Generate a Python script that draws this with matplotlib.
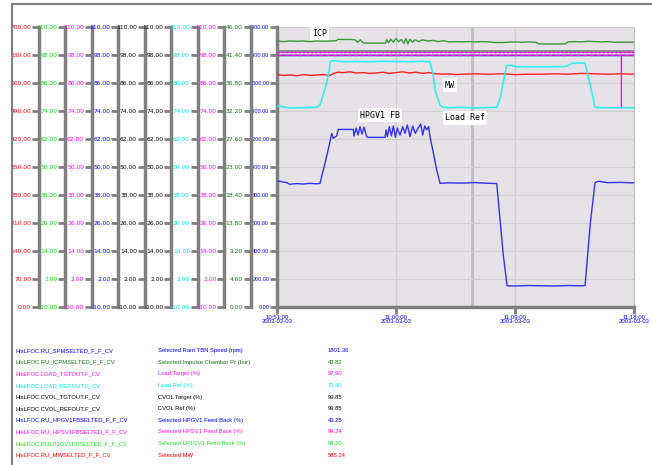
import matplotlib.pyplot as plt
from matplotlib.lines import Line2D

# time axis: minutes after 10:51:00
time_ticks = [0, 9, 18, 27]
time_labels = ['10:51:00\n2003-03-03', '11:00:00\n2003-03-03',
               '11:09:00\n2003-03-03', '11:18:00\n2003-03-03']

# Load Ref (%)
lr_t = [0, 0.3, 0.6, 1.0, 1.5, 2.0, 2.5, 3.0, 3.25, 3.65, 3.9, 4.06, 4.4, 5, 6, 7, 8, 9, 10, 11,
        11.57, 11.8, 11.95, 12.33, 12.6, 13, 14, 15, 16, 16.62, 16.9, 17.1, 17.37, 17.8, 18.0, 19,
        20, 21, 21.9, 22.3, 22.8, 23.3, 23.7, 24.05, 24.4, 25, 26, 27]
lr_v = [76.3, 76.0, 75.6, 75.3, 75.4, 75.4, 75.5, 75.6, 76.5, 84.0, 90.0, 95.4, 95.6, 95.1, 95.2,
        95.1, 95.3, 95.2, 95.1, 95.3, 95.0, 90.0, 83.0, 76.5, 75.5, 75.4, 75.6, 75.3, 75.5, 75.6,
        80.0, 86.0, 93.5, 93.6, 93.0, 93.0, 93.0, 93.0, 93.1, 94.4, 94.6, 94.4, 85.0, 75.6, 75.4,
        75.4, 75.4, 75.4]

# Selected HPGV1 Feed Back (%)
hg_t = [0, 0.35, 0.73, 0.98, 1.5, 2.0, 2.5, 3.0, 3.25, 3.63, 4.01, 4.14, 4.26, 4.51, 4.64, 5.2,
        5.77, 5.82, 5.98, 6.13, 6.28, 6.43, 6.58, 6.78, 6.91, 7.5, 8.17, 8.25, 8.35, 8.5, 8.65,
        8.8, 8.95, 9.1, 9.3, 9.51, 9.68, 9.86, 10.06, 10.26, 10.46, 10.67, 10.87, 11.02, 11.17,
        11.32, 11.47, 11.57, 11.83, 12.08, 12.33, 13, 14, 15, 16, 16.62, 17.1, 17.4, 18, 19, 20,
        21, 22, 23, 23.3, 23.7, 24.05, 24.3, 25, 26, 27]
hg_v = [44.1, 43.7, 43.3, 42.6, 42.9, 42.7, 43.0, 42.8, 43.0, 51.6, 60.9, 64.4, 62.3, 63.3, 66.1,
        66.1, 66.1, 63.3, 66.7, 63.7, 67.3, 64.1, 67.1, 63.0, 62.7, 62.7, 62.7, 65.9, 63.0, 67.3,
        63.3, 67.6, 62.7, 66.7, 63.7, 67.3, 64.4, 68.0, 63.0, 67.6, 64.4, 66.7, 68.4, 63.7, 67.6,
        65.9, 67.3, 63.0, 55.9, 48.7, 43.0, 43.2, 43.1, 43.3, 43.0, 42.9, 13.0, -0.9, -1.0, -0.8,
        -0.9, -1.0, -0.8, -0.9, -0.8, 26.1, 43.3, 43.9, 43.3, 43.4, 43.2]

# Selected MW
mw_t = [0, 0.5, 1, 1.5, 2, 2.5, 3, 3.5, 4.0, 4.3, 4.6, 5, 5.5, 6, 6.5, 7, 7.5, 8, 8.5, 9, 9.5,
        10, 10.5, 11, 11.5, 12, 12.5, 13, 13.5, 14, 15, 16, 17, 18, 19, 20, 21, 22, 23, 24, 25,
        26, 27]
mw_v = [581, 579, 580, 578, 581, 579, 580, 581, 579, 584, 587, 586, 588, 585, 586, 584, 585, 587,
        584, 586, 588, 585, 587, 584, 586, 583, 582, 583, 581, 582, 583, 582, 583, 581, 582, 582,
        583, 582, 584, 583, 582, 583, 582]

# Selected Impulse Chamber Pr (bar)
icp_t = [0, 0.5, 1, 1.5, 2, 2.5, 3, 3.5, 4, 4.5, 4.6, 5, 5.5, 5.9, 6.1, 6.3, 6.5, 6.8, 7.5, 8.2,
         8.3, 8.45, 8.6, 8.8, 9.0, 9.2, 9.4, 9.6, 9.75, 9.9, 10.05, 10.25, 10.45, 10.7, 11, 11.4,
         11.8, 12.2, 12.6, 13.0, 13.5, 14, 14.5, 15, 15.5, 16, 16.5, 17, 17.5, 18, 18.5, 19,
         19.6, 19.8, 21, 21.8, 22, 22.5, 23, 23.5, 24, 24.5, 25, 25.5, 26, 27]
icp_v = [43.7, 43.6, 43.7, 43.65, 43.7, 43.6, 43.7, 43.65, 43.7, 43.75, 43.98, 43.95, 43.95, 43.9,
         43.5, 43.9, 43.4, 43.35, 43.33, 43.35, 43.9, 43.4, 44.0, 43.5, 44.1, 43.6, 43.95, 43.3,
         44.1, 43.2, 44.0, 43.5, 43.9, 43.6, 43.9, 43.7, 43.8, 43.6, 43.75, 43.55, 43.6, 43.55,
         43.6, 43.55, 43.6, 43.55, 43.45, 43.45, 43.5, 43.55, 43.5, 43.55, 43.5, 43.22, 43.2,
         43.22, 43.55, 43.6, 43.55, 43.65, 43.6, 43.55, 43.6, 43.5, 43.5, 43.5]

# nearly constant signals
flat_t = [0, 27]
speed_v = [1801.4, 1801.4]
cvol_tgt_v = [99.85, 99.85]
cvol_ref_v = [99.85, 99.85]
hpsv_v = [99.24, 99.24]
lp_v = [98.2, 98.2]
lt_t = [0, 26.04, 26.05, 26.06, 27]
lt_v = [97.9, 97.9, 75.4, 97.9, 97.9]

# left scale ranges (bottom, top)
scale_ranges = [(0, 700), (-10, 110), (-10, 110), (-10, 110), (-10, 110),
                (-10, 110), (-10, 110), (-10, 110), (0, 46)]
speed_range = (0, 2000)

# legend table
tags = ['HisLFOC.RU_SPMSELTED_F_F_CV', 'HisLFOC.RU_ICPMSELTED_F_F_CV', 'HisLFOC.LOAD_TGTOUT.F_CV',
        'HisLFOC.LOAD_REFOUT.F_CV', 'HisLFOC.CVOL_TGTOUT.F_CV', 'HisLFOC.CVOL_REFOUT.F_CV',
        'HisLFOC.RU_HPGV1FBSELTED_F_F_CV', 'HisLFOC.RU_HPSV1FBSELTED_F_F_CV',
        'HisLFOC.RULP1GV1FBSELTED_F_F_CV', 'HisLFOC.RU_MWSELTED_F_F_CV']
descs = ['Selected Rant TBN Speed (rpm)', 'Selected Impulse Chamber Pr (bar)', 'Load Target (%)',
         'Load Ref (%)', 'CVOL Target (%)', 'CVOL Ref (%)', 'Selected HPGV1 Feed Back (%)',
         'Selected HPSV1 Feed Back (%)', 'Selected LP1GV1 Feed Back (%)', 'Selected MW']
values = ['1801.36', '43.82', '97.90', '75.40', '99.85', '99.85', '43.25', '99.24', '98.20', '585.24']

RED, LIME, MAG, BLUE, BLK, CYAN, DGRN = '#FF0000', '#00DD00', '#FF00FF', '#0000FF', '#000000', '#00E5E5', '#117711'
scale_colors = [RED, LIME, MAG, BLUE, BLK, BLK, CYAN, MAG, DGRN]
row_colors = [BLUE, DGRN, MAG, CYAN, BLK, BLK, BLUE, MAG, '#22DD22', RED]
GRAY = '#808080'
FONT = ['Liberation Sans']

W, H = 652, 465
PL, PR, PT, PB = 277, 634, 27, 307


def fx(px):
    return px / W


def fy(py):
    return 1 - py / H


fig = plt.figure(figsize=(W / 100, H / 100), dpi=100)
rect = [fx(PL), fy(PB), (PR - PL) / W, (PB - PT) / H]

ax = fig.add_axes(rect)
ax.set_facecolor('#E6E2E7')
ax.set_xlim(0, 27)
ax.set_ylim(*speed_range)
ax.set_yticks([speed_range[0] + i * (speed_range[1] - speed_range[0]) / 10 for i in range(11)])
ax.set_yticklabels(['%.2f' % v for v in ax.get_yticks()], family=FONT)
ax.set_xticks(time_ticks)
ax.set_xticklabels(time_labels, family=FONT, linespacing=0.9)
ax.grid(True, color='#CFCFCF', lw=0.9)
ax.set_axisbelow(True)
ax.axvline(14.75, color='#BDBDBD', lw=2, zorder=0.5)
ax.tick_params(axis='both', direction='out', length=5, width=2, color=GRAY,
               labelcolor=BLUE, labelsize=4.3, pad=0.6)
ax.tick_params(axis='y', labelsize=4.0)
ax.spines['top'].set_visible(False)
ax.spines['right'].set_color('#BBBBBB')
for s in ['left', 'bottom']:
    ax.spines[s].set_color(GRAY)
    ax.spines[s].set_linewidth(2.5)

scale_axes = []
for i, (lo, hi) in enumerate(scale_ranges):
    a = fig.add_axes(rect, sharex=ax)
    a.patch.set_visible(False)
    a.set_ylim(lo, hi)
    ticks = [lo + k * (hi - lo) / 10 for k in range(11)]
    a.set_yticks(ticks)
    a.set_yticklabels(['%.2f' % v for v in ticks], family=FONT)
    a.tick_params(axis='y', direction='out', length=5, width=2, color=GRAY,
                  labelcolor=scale_colors[i], labelsize=4.3, pad=0.6)
    a.tick_params(axis='x', bottom=False, labelbottom=False)
    for s in ['top', 'right', 'bottom']:
        a.spines[s].set_visible(False)
    xpx = 39 + i * (PL - 39) / 9
    a.spines['left'].set_position(('axes', (xpx - PL) / (PR - PL)))
    a.spines['left'].set_color(GRAY)
    a.spines['left'].set_linewidth(2.5)
    scale_axes.append(a)

ax_mw, ax_lp, ax_lt, ax_hg, ax_ct, ax_cr, ax_lr, ax_hs, ax_icp = scale_axes

ax_icp.plot(icp_t, icp_v, color='#3C9A3C', lw=1)
ax_cr.plot(flat_t, cvol_ref_v, color='#8A8A8A', lw=2)
ax_ct.plot(flat_t, cvol_tgt_v, color='#660066', lw=1)
ax_hs.plot(flat_t, hpsv_v, color=MAG, lw=1, ls=(0, (2, 1)))
ax_lp.plot(flat_t, lp_v, color='#22DD22', lw=1, ls=(0, (3, 2)))
ax.plot(flat_t, speed_v, color='#0000EE', lw=1)
ax_lt.plot(lt_t, lt_v, color=MAG, lw=0.8)
ax_mw.plot(mw_t, mw_v, color='#FF2020', lw=1)
ax_lr.plot(lr_t, lr_v, color='#33EEEE', lw=1.2)
ax_hg.plot(hg_t, hg_v, color='#3333EE', lw=1)

box = dict(facecolor='white', edgecolor='none', pad=1.5)
for label, x, y in [('ICP', 312, 33), ('MW', 445, 85), ('Load Ref', 445, 118), ('HPGV1 FB', 360, 115)]:
    fig.text(fx(x), fy(y), label, fontsize=6, family=['DejaVu Sans Mono'], va='center',
             ha='left', bbox=box)

# legend table
for k in range(len(tags)):
    y = fy(350.7 + k * 11.6)
    fig.text(fx(16), y, tags[k], color=row_colors[k], fontsize=4.2, va='center', family=FONT)
    fig.text(fx(158), y, descs[k], color=row_colors[k], fontsize=4.2, va='center', family=FONT)
    fig.text(fx(328), y, values[k], color=row_colors[k], fontsize=4.2, va='center', family=FONT)

# window frame
fig.add_artist(Line2D([fx(12), fx(12)], [fy(4), 0], color=GRAY, lw=1.5))
fig.add_artist(Line2D([fx(12), 1], [fy(4), fy(4)], color=GRAY, lw=1.5))

fig.savefig('out.png', dpi=100)
